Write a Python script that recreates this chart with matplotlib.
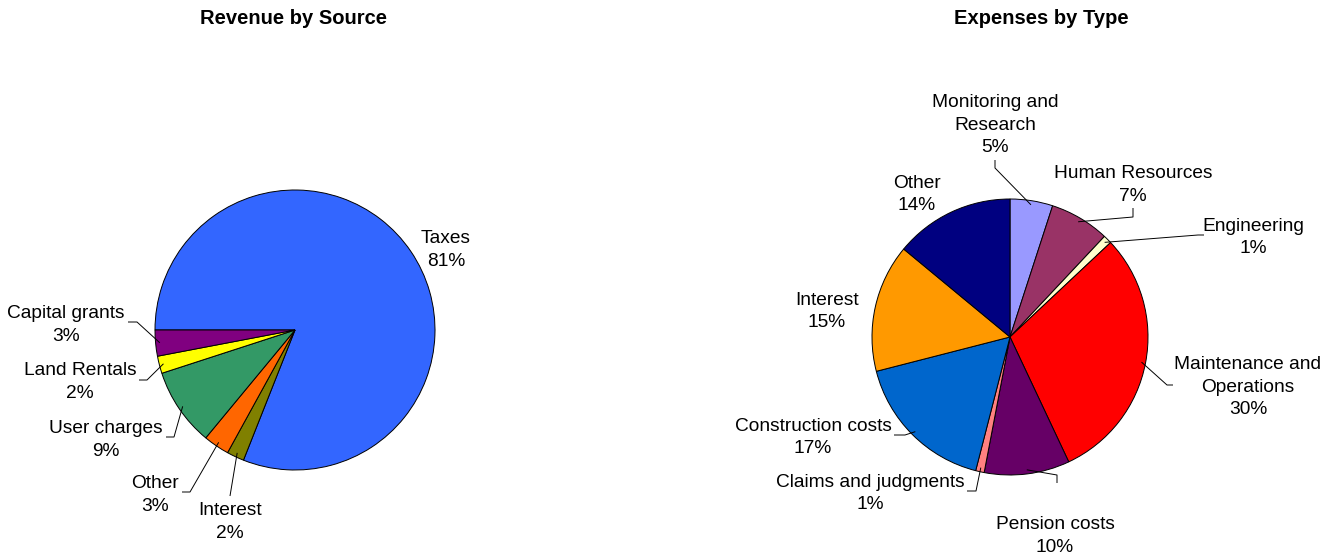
import numpy as np
import matplotlib
matplotlib.use("Agg")
import matplotlib.pyplot as plt

plt.rcParams['font.family'] = ['Liberation Sans', 'DejaVu Sans']

# revenue (clockwise from 9 o'clock)
rev_labels = ["Taxes", "Interest", "Other", "User charges", "Land Rentals", "Capital grants"]
rev_values = [81, 2, 3, 9, 2, 3]
rev_colors = ["#3366FF", "#808000", "#FF6600", "#339966", "#FFFF00", "#800080"]

# expenses (clockwise from 12 o'clock)
exp_labels = ["Monitoring and\nResearch", "Human Resources", "Engineering",
              "Maintenance and\nOperations", "Pension costs", "Claims and judgments",
              "Construction costs", "Interest", "Other"]
exp_values = [5, 7, 1, 30, 10, 1, 17, 15, 14]
exp_colors = ["#9999FF", "#993366", "#FFFFCC", "#FF0000", "#660066",
              "#FF8080", "#0066CC", "#FF9900", "#000080"]

W, H = 1330, 557

# label layout in pixel coords (y down): text centre, leader elbow, leader end
rev_layout = [
    ((446, 250), None, None),
    ((230, 522), (230, 496), (230, 496)),
    ((155, 495), (190, 492), (182, 492)),
    ((106, 440), (174, 437), (166, 437)),
    ((80, 382), (147, 380), (139, 380)),
    ((66, 325), (137, 322), (128, 322)),
]
exp_layout = [
    ((995, 125), (995, 168), (995, 160)),
    ((1133, 185), (1133, 217), (1133, 208)),
    ((1253, 237.5), (1198, 235), (1204, 235)),
    ((1248, 387), (1167, 385), (1173, 385)),
    ((1055, 536), (1057, 475), (1057, 483)),
    ((870, 493.5), (976, 491), (967, 491)),
    ((813, 437.5), (905, 435), (894, 435)),
    ((827, 311.5), None, None),
    ((917, 194.5), None, None),
]


def Y(p):
    return H - p


def draw_pie(ax, values, labels, colors, center, radius, start, layout):
    wedges, _ = ax.pie(values, colors=colors, center=(center[0], Y(center[1])),
                       radius=radius, startangle=start, counterclock=False,
                       wedgeprops=dict(edgecolor="black", linewidth=0.7))
    for w, lab, val, (txt, elbow, end) in zip(wedges, labels, values, layout):
        ax.text(txt[0], Y(txt[1]), f"{lab}\n{val}%", ha="center", va="center",
                fontsize=13.8, linespacing=1.45, color="black")
        if elbow is None:
            continue
        ang = np.deg2rad((w.theta1 + w.theta2) / 2)
        sx = w.center[0] + w.r * 0.97 * np.cos(ang)
        sy = w.center[1] + w.r * 0.97 * np.sin(ang)
        ax.plot([sx, elbow[0], end[0]], [sy, Y(elbow[1]), Y(end[1])],
                color="black", linewidth=0.7, solid_capstyle="butt")


fig = plt.figure(figsize=(W / 100, H / 100), dpi=100)
ax = fig.add_axes([0, 0, 1, 1])

draw_pie(ax, rev_values, rev_labels, rev_colors, (295, 330), 140, 180, rev_layout)
draw_pie(ax, exp_values, exp_labels, exp_colors, (1010, 337), 138, 90, exp_layout)

ax.text(293, Y(19), "Revenue by Source", ha="center", va="center",
        fontsize=14.5, fontweight="bold")
ax.text(1041, Y(19), "Expenses by Type", ha="center", va="center",
        fontsize=14.5, fontweight="bold")

ax.set_xlim(0, W)
ax.set_ylim(0, H)
ax.set_aspect("equal")
ax.axis("off")

fig.savefig("out.png", dpi=100)
